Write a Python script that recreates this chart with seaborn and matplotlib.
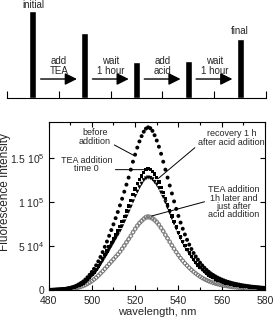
import pandas                as pd
import seaborn               as sns
import matplotlib.pyplot     as plt


# spectra, intensity in units of 1e4 counts, 1 nm steps from 480 to 580 nm
wavelength = list(range(480, 581))

before_addition = [
    0.05, 0.06, 0.07, 0.08, 0.10, 0.12, 0.14, 0.17, 0.20, 0.25,
    0.30, 0.37, 0.45, 0.56, 0.70, 0.85, 1.02, 1.24, 1.50, 1.78,
    2.10, 2.45, 2.85, 3.30, 3.80, 4.35, 4.95, 5.55, 6.20, 6.85,
    7.50, 8.20, 8.90, 9.65, 10.4, 11.2, 12.0, 12.8, 13.7, 14.6,
    15.4, 16.2, 16.9, 17.5, 18.0, 18.35, 18.5, 18.4, 18.1, 17.6,
    17.0, 16.3, 15.5, 14.6, 13.7, 12.8, 11.9, 11.0, 10.1, 9.25,
    8.45, 7.70, 7.00, 6.35, 5.75, 5.20, 4.70, 4.25, 3.85, 3.50,
    3.15, 2.85, 2.58, 2.34, 2.12, 1.93, 1.76, 1.61, 1.47, 1.35,
    1.24, 1.14, 1.05, 0.97, 0.90, 0.83, 0.77, 0.72, 0.67, 0.62,
    0.58, 0.54, 0.50, 0.47, 0.44, 0.41, 0.38, 0.36, 0.34, 0.32,
    0.30,
]

tea_time0 = [
    0.04, 0.05, 0.06, 0.07, 0.09, 0.10, 0.12, 0.14, 0.17, 0.21,
    0.26, 0.31, 0.38, 0.48, 0.60, 0.72, 0.87, 1.05, 1.27, 1.51,
    1.78, 2.07, 2.41, 2.78, 3.19, 3.61, 4.06, 4.50, 4.96, 5.41,
    5.85, 6.31, 6.76, 7.24, 7.80, 8.40, 9.00, 9.60, 10.2, 10.9,
    11.5, 12.1, 12.6, 13.0, 13.4, 13.7, 13.8, 13.7, 13.5, 13.2,
    12.8, 12.3, 11.7, 11.1, 10.4, 9.75, 9.10, 8.45, 7.80, 7.18,
    6.60, 6.05, 5.55, 5.08, 4.65, 4.25, 3.87, 3.52, 3.18, 2.88,
    2.60, 2.35, 2.13, 1.93, 1.75, 1.59, 1.45, 1.32, 1.21, 1.11,
    1.02, 0.94, 0.86, 0.80, 0.74, 0.68, 0.63, 0.59, 0.55, 0.51,
    0.48, 0.45, 0.42, 0.39, 0.36, 0.34, 0.32, 0.30, 0.28, 0.26,
    0.25,
]

recovery_1h = [
    0.04, 0.05, 0.06, 0.07, 0.08, 0.09, 0.11, 0.13, 0.16, 0.19,
    0.24, 0.29, 0.35, 0.44, 0.55, 0.66, 0.80, 0.97, 1.17, 1.39,
    1.64, 1.91, 2.22, 2.56, 2.94, 3.33, 3.75, 4.17, 4.60, 5.03,
    5.45, 5.88, 6.30, 6.75, 7.27, 7.82, 8.38, 8.94, 9.50, 10.1,
    10.7, 11.2, 11.7, 12.1, 12.5, 12.7, 12.8, 12.75, 12.6, 12.3,
    12.0, 11.6, 11.1, 10.6, 10.0, 9.40, 8.80, 8.20, 7.60, 7.02,
    6.46, 5.94, 5.45, 5.00, 4.58, 4.18, 3.81, 3.46, 3.13, 2.83,
    2.56, 2.31, 2.09, 1.89, 1.71, 1.56, 1.42, 1.30, 1.19, 1.09,
    1.00, 0.92, 0.85, 0.78, 0.72, 0.67, 0.62, 0.58, 0.54, 0.50,
    0.47, 0.44, 0.41, 0.38, 0.36, 0.33, 0.31, 0.29, 0.27, 0.26,
    0.24,
]

tea_1h_later = [
    0.02, 0.03, 0.04, 0.04, 0.05, 0.06, 0.07, 0.09, 0.10, 0.13,
    0.16, 0.19, 0.23, 0.29, 0.37, 0.44, 0.53, 0.64, 0.77, 0.92,
    1.09, 1.26, 1.47, 1.70, 1.95, 2.20, 2.48, 2.75, 3.03, 3.30,
    3.57, 3.85, 4.12, 4.42, 4.76, 5.12, 5.49, 5.86, 6.22, 6.65,
    7.02, 7.38, 7.69, 7.93, 8.17, 8.36, 8.42, 8.36, 8.24, 8.05,
    7.81, 7.50, 7.14, 6.77, 6.34, 5.95, 5.55, 5.15, 4.76, 4.38,
    4.03, 3.69, 3.39, 3.10, 2.84, 2.59, 2.36, 2.15, 1.94, 1.76,
    1.59, 1.43, 1.30, 1.18, 1.07, 0.97, 0.88, 0.81, 0.74, 0.68,
    0.62, 0.57, 0.52, 0.49, 0.45, 0.41, 0.38, 0.36, 0.34, 0.31,
    0.29, 0.27, 0.26, 0.24, 0.22, 0.21, 0.20, 0.18, 0.17, 0.16,
    0.15,
]

after_acid = [
    0.02, 0.03, 0.03, 0.04, 0.05, 0.06, 0.07, 0.08, 0.10, 0.12,
    0.15, 0.18, 0.22, 0.28, 0.35, 0.42, 0.51, 0.62, 0.75, 0.89,
    1.05, 1.23, 1.43, 1.66, 1.90, 2.15, 2.42, 2.69, 2.97, 3.24,
    3.51, 3.79, 4.06, 4.36, 4.69, 5.04, 5.41, 5.78, 6.14, 6.56,
    6.93, 7.29, 7.60, 7.84, 8.07, 8.25, 8.30, 8.25, 8.13, 7.94,
    7.70, 7.40, 7.05, 6.68, 6.26, 5.87, 5.47, 5.08, 4.70, 4.33,
    3.98, 3.65, 3.35, 3.07, 2.81, 2.56, 2.33, 2.12, 1.92, 1.74,
    1.57, 1.42, 1.29, 1.17, 1.06, 0.96, 0.87, 0.80, 0.73, 0.67,
    0.61, 0.56, 0.52, 0.48, 0.44, 0.41, 0.38, 0.35, 0.33, 0.31,
    0.29, 0.27, 0.25, 0.24, 0.22, 0.21, 0.19, 0.18, 0.17, 0.16,
    0.15,
]

SCALE = 1e4

# top scheme: relative intensity after each step
bar_positions = [0.5, 1.5, 2.5, 3.5, 4.5]
bar_heights   = [87, 65, 36, 37, 59]
step_labels   = ["add\nTEA", "wait\n1 hour", "add\nacid", "wait\n1 hour"]

y_ticks       = [0, 5e4, 1e5, 1.5e5]
y_ticklabels  = ["0", r"5 10$^{\mathregular{4}}$", r"1 10$^{\mathregular{5}}$",
                 r"1.5 10$^{\mathregular{5}}$"]


def make_plot():

    sns.set_theme(style="ticks")
    plt.rcParams['font.family'] = ['Liberation Sans', 'DejaVu Sans']

    spectra = pd.DataFrame({
        'wavelength' : wavelength,
        'before'     : [v * SCALE for v in before_addition],
        'tea0'       : [v * SCALE for v in tea_time0],
        'recovery'   : [v * SCALE for v in recovery_1h],
        'tea1h'      : [v * SCALE for v in tea_1h_later],
        'acid'       : [v * SCALE for v in after_acid],
    })

    fig    = plt.figure(figsize=(2.73, 3.24), dpi=100)
    ax_top = fig.add_axes([0.0256, 0.6975, 0.949, 0.3025])
    ax     = fig.add_axes([0.1777, 0.1034, 0.793, 0.52])

    # ---- top panel ----
    sns.barplot(
        x           =bar_positions,
        y           =bar_heights,
        native_scale=True,
        width       =0.135,
        color       ='black',
        saturation  =1,
        ax          =ax_top
    )
    ax_top.set_xlim(0, 5)
    ax_top.set_ylim(0, 98)
    ax_top.set_xticks(range(0, 6))
    ax_top.set_xticklabels([])
    ax_top.set_yticks([])
    ax_top.set_xlabel('')
    ax_top.set_ylabel('')
    for side in ['top', 'left', 'right']:
        ax_top.spines[side].set_visible(False)
    ax_top.spines['bottom'].set_linewidth(0.8)
    ax_top.spines['bottom'].set_color('black')
    ax_top.tick_params(axis='x', direction='in', length=5, width=0.8, color='black')
    ax_top.patch.set_alpha(0)

    for i, label in enumerate(step_labels, start=1):
        ax_top.annotate(
            '', xy=(i + 0.35, 19), xytext=(i - 0.35, 19),
            arrowprops=dict(arrowstyle='-|>,head_length=0.6,head_width=0.3',
                            mutation_scale=12, lw=1, color='black',
                            shrinkA=0, shrinkB=0)
        )
        ax_top.text(i, 32, label, ha='center', va='center', fontsize=7,
                    linespacing=0.95)

    ax_top.text(0.5, 93, 'initial', ha='center', va='center', fontsize=7)
    ax_top.text(4.5, 67, 'final', ha='center', va='center', fontsize=7)

    # ---- spectra ----
    sns.scatterplot(data=spectra, x='wavelength', y='acid', marker='D', s=5,
                    facecolor='none', edgecolor='0.5', linewidth=0.5, ax=ax)
    sns.scatterplot(data=spectra, x='wavelength', y='tea1h', marker='o', s=6,
                    facecolor='none', edgecolor='0.45', linewidth=0.5, ax=ax)
    sns.scatterplot(data=spectra, x='wavelength', y='recovery', marker='v', s=9,
                    color='black', edgecolor='none', ax=ax)
    sns.scatterplot(data=spectra, x='wavelength', y='tea0', marker='s', s=6,
                    color='black', edgecolor='none', ax=ax)
    sns.scatterplot(data=spectra, x='wavelength', y='before', marker='o', s=8,
                    color='black', edgecolor='none', ax=ax)

    line = dict(arrowstyle='-', lw=0.7, color='black', shrinkA=0, shrinkB=0)
    ax.annotate('before\naddition', xy=(519.5, 1.53e5), xytext=(501.5, 1.74e5),
                ha='center', va='center', fontsize=6.5, linespacing=0.95,
                arrowprops=dict(line, relpos=(1, 0.15)))
    ax.annotate('TEA addition\ntime 0', xy=(527, 1.37e5), xytext=(497.5, 1.43e5),
                ha='center', va='center', fontsize=6.5, linespacing=0.95,
                arrowprops=dict(line, relpos=(1, 0.2)))
    ax.annotate('recovery 1 h\nafter acid adition', xy=(530.7, 1.27e5),
                xytext=(564.5, 1.73e5),
                ha='center', va='center', fontsize=6.5, linespacing=0.95,
                arrowprops=dict(line, relpos=(0, 0.1)))
    ax.annotate('TEA addition\n1h later and\njust after\nacid addition',
                xy=(527.7, 8.45e4), xytext=(565.5, 1.0e5),
                ha='center', va='center', fontsize=6.5, linespacing=0.9,
                arrowprops=dict(line, relpos=(0.02, 0.55)))

    ax.set_xlim(480, 580)
    ax.set_ylim(0, 1.91e5)
    ax.set_xticks(range(480, 581, 20))
    ax.set_xticks(range(490, 580, 20), minor=True)
    ax.set_yticks(y_ticks)
    ax.set_yticklabels(y_ticklabels)
    ax.tick_params(which='both', direction='in', top=True, right=True,
                   width=0.8, color='black', labelsize=7.5)
    ax.tick_params(axis='x', which='both', pad=4)
    ax.tick_params(axis='y', which='both', pad=3)
    ax.tick_params(which='major', length=3.5)
    ax.tick_params(which='minor', length=2.5)
    for side in ax.spines.values():
        side.set_linewidth(0.8)
        side.set_color('black')

    ax.set_xlabel('wavelength, nm', fontsize=8, labelpad=1)
    ax.set_ylabel('Fluorescence Intensity', fontsize=8.5)
    ax.yaxis.set_label_coords(-0.172, 0.585)

    fig.savefig('out.png', dpi=100)


if __name__ == '__main__':
    make_plot()
